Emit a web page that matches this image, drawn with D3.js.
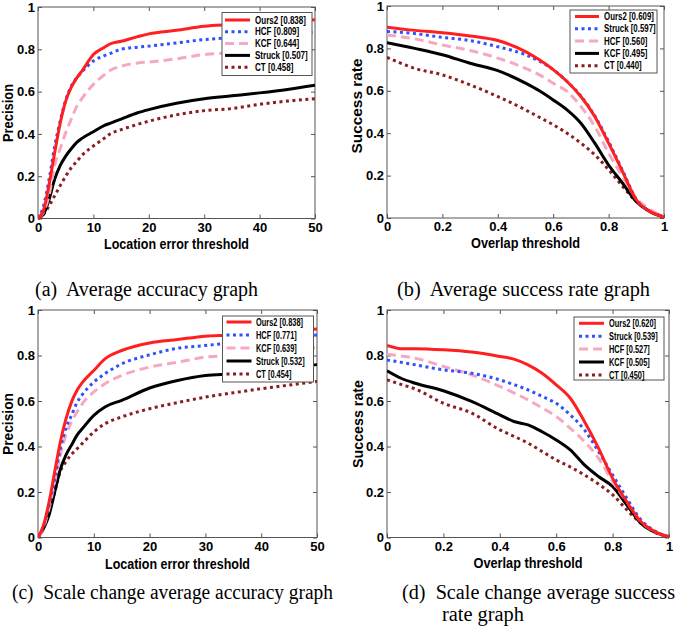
<!DOCTYPE html>
<html><head><meta charset="utf-8">
<script src="https://cdn.jsdelivr.net/npm/d3@7"></script>
<style>body{margin:0;background:#fff}svg{display:block}</style>
</head><body>
<script>
// ---------- DATA ----------
// Panel (a): precision vs location error threshold
const xA = [0,1,2,3,4,5,6,7,8,10,12,13,15,18,20,25,30,35,40,45,50];
const aOurs2 = [0,0.04,0.16,0.31,0.45,0.555,0.62,0.665,0.70,0.775,0.81,0.825,0.838,0.86,0.873,0.89,0.909,0.917,0.925,0.933,0.94];
const aHCF   = [0,0.06,0.185,0.34,0.46,0.56,0.625,0.665,0.695,0.745,0.77,0.78,0.80,0.81,0.815,0.83,0.846,0.855,0.865,0.873,0.88];
const aKCF   = [0,0.03,0.11,0.25,0.33,0.405,0.47,0.53,0.57,0.634,0.68,0.70,0.72,0.735,0.74,0.755,0.775,0.783,0.79,0.80,0.807];
const aStruck= [0,0.02,0.09,0.185,0.25,0.295,0.33,0.36,0.38,0.41,0.44,0.45,0.47,0.50,0.515,0.545,0.566,0.58,0.594,0.61,0.63];
const aCT    = [0,0.02,0.06,0.107,0.155,0.2,0.24,0.27,0.30,0.343,0.38,0.40,0.42,0.445,0.46,0.49,0.51,0.52,0.54,0.555,0.566];
const legA = ["Ours2 [0.838]","HCF [0.809]","KCF [0.644]","Struck [0.507]","CT [0.458]"];

// Panel (b): success rate vs overlap threshold
const xB = [0,0.1,0.2,0.3,0.4,0.5,0.55,0.6,0.65,0.7,0.75,0.8,0.85,0.9,0.95,1];
const bOurs2 = [0.90,0.885,0.874,0.859,0.837,0.785,0.746,0.70,0.644,0.573,0.479,0.353,0.22,0.086,0.03,0.005];
const bStruck= [0.88,0.87,0.852,0.837,0.808,0.77,0.74,0.70,0.644,0.575,0.482,0.36,0.225,0.088,0.03,0.005];
const bHCF   = [0.863,0.845,0.816,0.79,0.754,0.706,0.675,0.636,0.597,0.526,0.432,0.306,0.196,0.094,0.04,0.005];
const bKCF   = [0.827,0.80,0.77,0.73,0.695,0.636,0.60,0.557,0.51,0.447,0.353,0.25,0.165,0.078,0.03,0.005];
const bCT    = [0.758,0.706,0.675,0.628,0.573,0.51,0.475,0.44,0.40,0.353,0.298,0.228,0.15,0.078,0.03,0.005];
const legB = ["Ours2 [0.609]","Struck [0.597]","HCF [0.560]","KCF [0.495]","CT [0.440]"];

// Panel (c): scale change precision
const xC = [0,1,2,3,4,5,6,7,8,10,12,15,20,25,30,35,40,45,50];
const cOurs2 = [0,0.055,0.158,0.29,0.42,0.52,0.595,0.647,0.683,0.734,0.785,0.822,0.855,0.87,0.885,0.89,0.902,0.91,0.917];
const cHCF   = [0,0.05,0.143,0.26,0.39,0.48,0.537,0.593,0.63,0.683,0.72,0.763,0.803,0.832,0.844,0.857,0.87,0.88,0.89];
const cKCF   = [0,0.045,0.13,0.245,0.362,0.45,0.508,0.552,0.59,0.64,0.676,0.712,0.749,0.77,0.793,0.80,0.807,0.82,0.836];
const cStruck= [0,0.04,0.10,0.20,0.30,0.362,0.406,0.45,0.48,0.537,0.574,0.603,0.657,0.69,0.712,0.72,0.734,0.745,0.76];
const cCT    = [0,0.04,0.114,0.20,0.29,0.333,0.365,0.39,0.415,0.464,0.50,0.53,0.566,0.593,0.617,0.636,0.654,0.67,0.686];
const legC = ["Ours2 [0.838]","HCF [0.771]","KCF [0.639]","Struck [0.532]","CT [0.454]"];

// Panel (d): scale change success rate
const xD = [0,0.05,0.1,0.2,0.3,0.4,0.45,0.5,0.55,0.6,0.65,0.7,0.75,0.8,0.85,0.9,0.95,1];
const dOurs2 = [0.844,0.83,0.83,0.825,0.815,0.796,0.784,0.759,0.722,0.671,0.612,0.51,0.393,0.26,0.158,0.07,0.026,0.003];
const dStruck= [0.78,0.77,0.759,0.737,0.722,0.693,0.672,0.649,0.62,0.59,0.539,0.473,0.378,0.275,0.173,0.078,0.028,0.003];
const dHCF   = [0.806,0.798,0.788,0.752,0.715,0.664,0.636,0.605,0.57,0.532,0.48,0.422,0.349,0.246,0.158,0.07,0.026,0.003];
const dKCF   = [0.733,0.70,0.678,0.645,0.598,0.539,0.51,0.495,0.465,0.429,0.385,0.319,0.268,0.224,0.144,0.063,0.023,0.003];
const dCT    = [0.693,0.673,0.653,0.59,0.547,0.473,0.445,0.415,0.378,0.341,0.31,0.275,0.235,0.188,0.122,0.063,0.023,0.003];
const legD = ["Ours2 [0.620]","Struck [0.539]","HCF [0.527]","KCF [0.505]","CT [0.450]"];

const yTicks = [0,0.2,0.4,0.6,0.8,1];
const xTicksLoc = [0,10,20,30,40,50];
const xTicksOv = [0,0.2,0.4,0.6,0.8,1];
const captions = [
  ["(a)  Average accuracy graph"],
  ["(b)  Average success rate graph"],
  ["(c)  Scale change average accuracy graph"],
  ["(d)  Scale change average success","rate graph"]
];

// ---------- STYLES by legend row ----------
const rowStyles = [
  {c:"#ff1f1f", dash:null, w:3},
  {c:"#2d52ff", dash:"3,3.5", w:3},
  {c:"#f6a8c3", dash:"9,5", w:3},
  {c:"#000000", dash:null, w:3},
  {c:"#8a1d1d", dash:"3,3.5", w:3}
];

const W=685,H=630;
const SANS="'Liberation Sans',Arial,sans-serif";
const svg = d3.select("body").append("svg").attr("width",W).attr("height",H)
  .style("font-family",SANS);

function fitLen(sel, len){ sel.attr("textLength",len).attr("lengthAdjust","spacingAndGlyphs"); }

function panel(cfg){
  const g = svg.append("g");
  const x = d3.scaleLinear().domain(cfg.xdom).range([cfg.l,cfg.r]);
  const y = d3.scaleLinear().domain([0,1]).range([cfg.b,cfg.t]);
  g.append("rect").attr("x",cfg.l).attr("y",cfg.t).attr("width",cfg.r-cfg.l).attr("height",cfg.b-cfg.t)
    .attr("fill","#fff").attr("stroke","#555").attr("stroke-width",1);
  const ax = g.append("g").attr("transform",`translate(0,${cfg.b})`)
    .call(d3.axisBottom(x).tickValues(cfg.xt).tickSize(-4).tickPadding(4).tickFormat(d=>String(d)));
  const axT = g.append("g").attr("transform",`translate(0,${cfg.t})`)
    .call(d3.axisTop(x).tickValues(cfg.xt).tickSize(-4).tickFormat(""));
  const ay = g.append("g").attr("transform",`translate(${cfg.l},0)`)
    .call(d3.axisLeft(y).tickValues(yTicks).tickSize(-4).tickPadding(3).tickFormat(d=>String(d)));
  const ayR = g.append("g").attr("transform",`translate(${cfg.r},0)`)
    .call(d3.axisRight(y).tickValues(yTicks).tickSize(-4).tickFormat(""));
  [ax,axT,ay,ayR].forEach(a=>{a.select(".domain").remove();a.selectAll("line").attr("stroke","#555");
    a.selectAll("text").attr("font-size",13).attr("font-weight","bold").attr("fill","#000")
     .attr("font-family",SANS);});
  const line = d3.line().x((d,i)=>x(cfg.xs[i])).y(d=>y(d)).curve(d3.curveMonotoneX);
  const clip = "clip"+cfg.id;
  g.append("clipPath").attr("id",clip).append("rect").attr("x",cfg.l).attr("y",cfg.t-2).attr("width",cfg.r-cfg.l).attr("height",cfg.b-cfg.t+4);
  const lg = g.append("g").attr("clip-path",`url(#${clip})`);
  for(let i=cfg.series.length-1;i>=0;i--){
    const s = rowStyles[i];
    lg.append("path").datum(cfg.series[i]).attr("d",line).attr("fill","none")
      .attr("stroke",s.c).attr("stroke-width",s.w).attr("stroke-dasharray",s.dash)
      .attr("stroke-linejoin","round");
  }
  // axis labels
  const xl = g.append("text").attr("x",(cfg.l+cfg.r)/2).attr("y",cfg.xlY).attr("text-anchor","middle")
    .attr("font-size",14).attr("font-weight","bold").text(cfg.xlab);
  fitLen(xl,cfg.xlLen);
  const yl = g.append("text").attr("transform",`translate(${cfg.ylX},${cfg.ylC}) rotate(-90)`)
    .attr("text-anchor","middle").attr("font-size",15).attr("font-weight","bold").text(cfg.ylab);
  fitLen(yl,cfg.ylLen);
  // legend
  const L = cfg.leg;
  g.append("rect").attr("x",L.x).attr("y",L.y).attr("width",L.w).attr("height",L.h)
    .attr("fill","#fff").attr("stroke","#555").attr("stroke-width",1);
  let factor = null;
  cfg.legend.forEach((t,i)=>{
    const s = rowStyles[i];
    const yy = L.r0+i*L.dy;
    g.append("line").attr("x1",L.lx1).attr("x2",L.lx2).attr("y1",yy).attr("y2",yy)
      .attr("stroke",s.c).attr("stroke-width",s.w).attr("stroke-dasharray",s.dash);
    const tx = g.append("text").attr("x",L.tx).attr("y",yy+3.6).attr("font-size",10).attr("font-weight","bold").text(t);
    const nat = tx.node().getComputedTextLength();
    if(factor===null) factor = L.tl/nat;
    fitLen(tx, nat*factor);
  });
}

panel({id:"a",l:38,r:315,t:7,b:218.5,xdom:[0,50],xt:xTicksLoc,xs:xA,
  series:[aOurs2,aHCF,aKCF,aStruck,aCT],legend:legA,xlab:"Location error threshold",ylab:"Precision",
  xlY:248.5,xlLen:145,ylX:13,ylC:113,ylLen:58,
  leg:{x:222,y:12.5,w:90,h:63,r0:20,dy:11.8,lx1:225,lx2:250,tx:255,tl:51}});
panel({id:"b",l:387,r:664,t:6,b:218,xdom:[0,1],xt:xTicksOv,xs:xB,
  series:[bOurs2,bStruck,bHCF,bKCF,bCT],legend:legB,xlab:"Overlap threshold",ylab:"Success rate",
  xlY:247.5,xlLen:109,ylX:362,ylC:106,ylLen:95,
  leg:{x:570,y:10,w:87,h:63,r0:16.5,dy:12.3,lx1:575,lx2:599,tx:604,tl:50}});
panel({id:"c",l:38,r:317,t:310,b:537.5,xdom:[0,50],xt:xTicksLoc,xs:xC,
  series:[cOurs2,cHCF,cKCF,cStruck,cCT],legend:legC,xlab:"Location error threshold",ylab:"Precision",
  xlY:568.5,xlLen:145,ylX:13,ylC:424,ylLen:62,
  leg:{x:222.5,y:316,w:91,h:66,r0:322,dy:13,lx1:226.5,lx2:251.5,tx:256,tl:47}});
panel({id:"d",l:387,r:669,t:310,b:537.5,xdom:[0,1],xt:xTicksOv,xs:xD,
  series:[dOurs2,dStruck,dHCF,dKCF,dCT],legend:legD,xlab:"Overlap threshold",ylab:"Success rate",
  xlY:567.5,xlLen:109,ylX:363,ylC:424,ylLen:88,
  leg:{x:574,y:317,w:90,h:63,r0:323.3,dy:12.9,lx1:579,lx2:604,tx:609,tl:47}});

// captions
const capPos = [[[35,296,223]],[[397,296,253]],[[12,599,321]],[[402,599,273],[442,621,82]]];
captions.forEach((lines,i)=>{
  lines.forEach((t,j)=>{
    const p = capPos[i][j];
    const tx = svg.append("text").attr("x",p[0]).attr("y",p[1])
      .attr("font-family","'Liberation Serif','Times New Roman',serif").attr("font-size",20)
      .style("white-space","pre").text(t);
    fitLen(tx,p[2]);
  });
});
</script>
</body></html>
